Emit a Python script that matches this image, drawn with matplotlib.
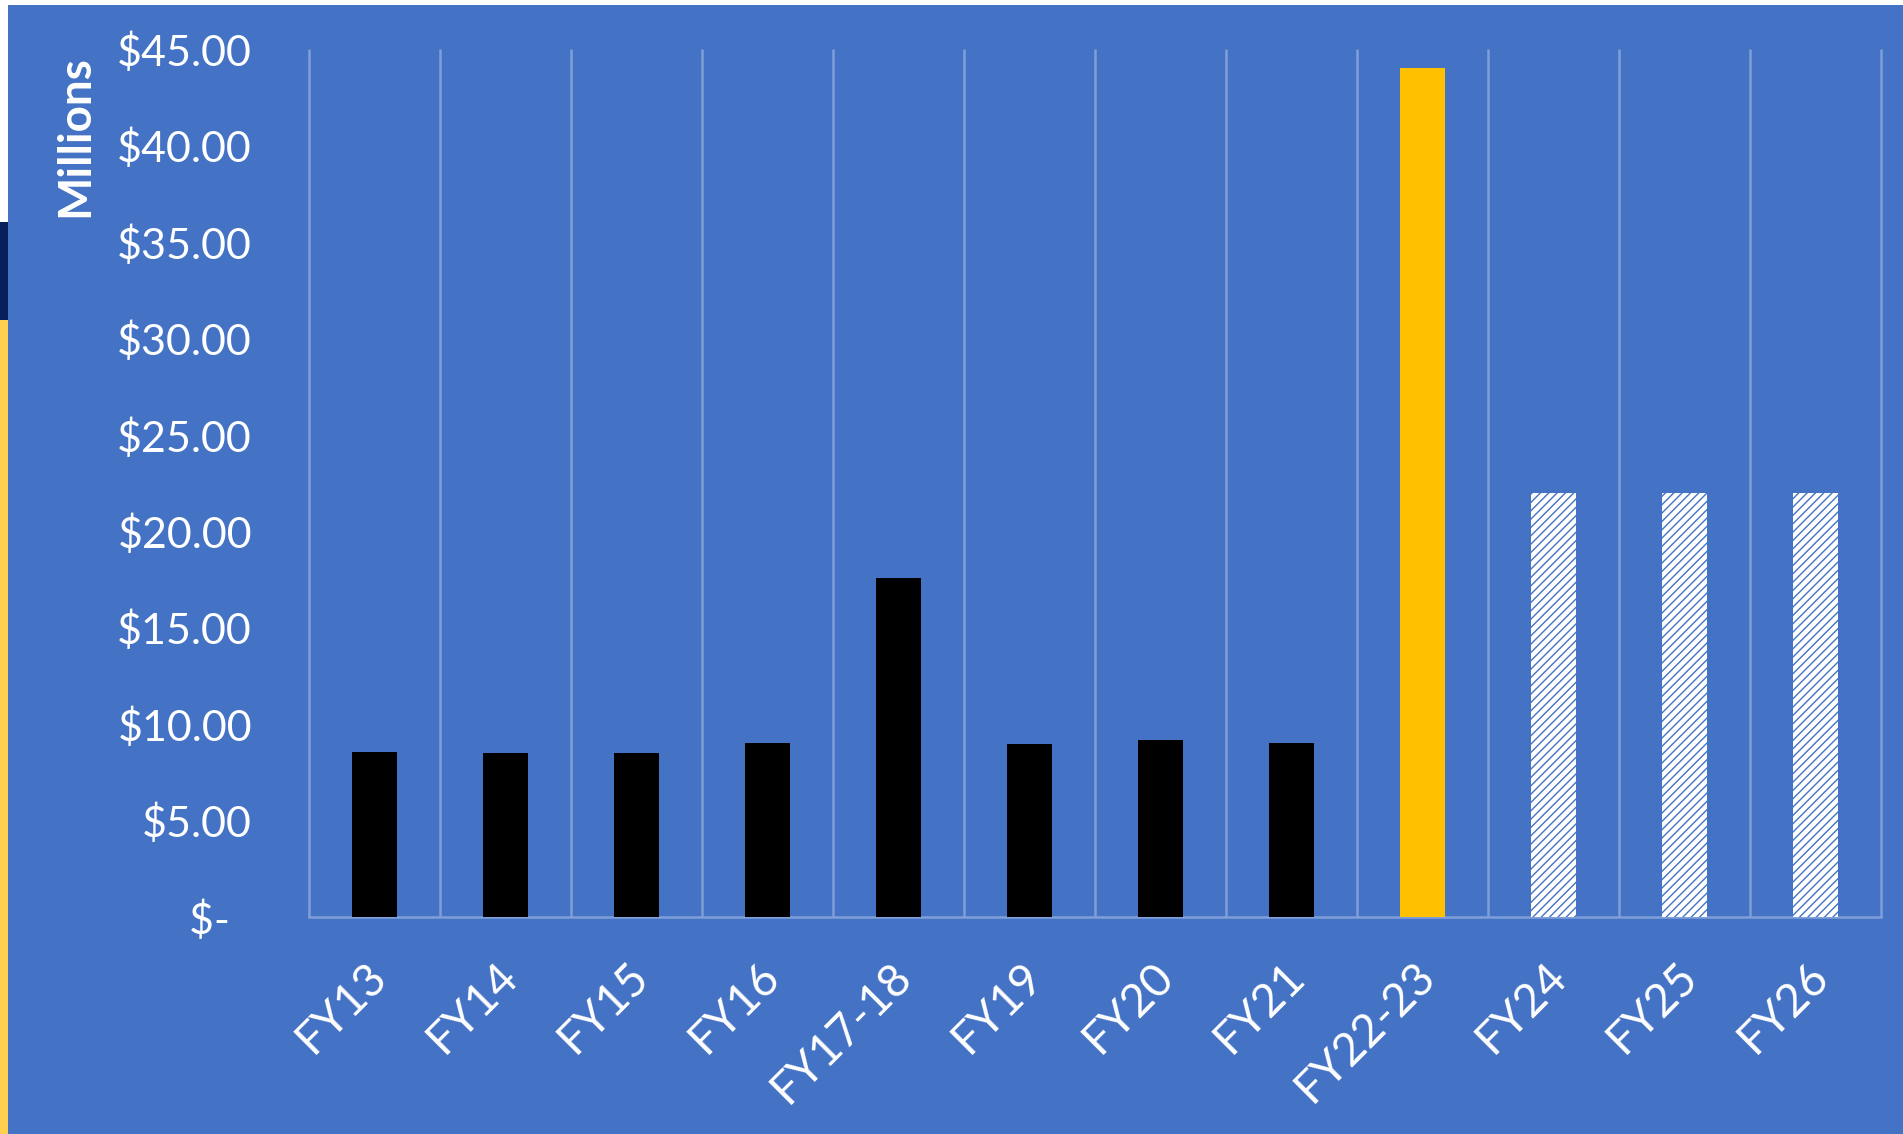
import numpy as np
import matplotlib.pyplot as plt
from matplotlib.patches import Rectangle
from matplotlib.ticker import FuncFormatter
from matplotlib.transforms import ScaledTranslation

# values (millions of dollars)
years = ["FY13", "FY14", "FY15", "FY16", "FY17-18", "FY19", "FY20", "FY21",
         "FY22-23", "FY24", "FY25", "FY26"]
actual = [8.55, 8.5, 8.5, 9.0, 17.6, 8.95, 9.2, 9.0]
current = [44.0]
projected = [22.0, 22.0, 22.0]

BG = "#4472C4"
GRID = "#7F9FD9"

plt.rcParams["font.family"] = ["Lato", "DejaVu Sans"]
plt.rcParams["hatch.linewidth"] = 1.0

fig = plt.figure(figsize=(19.03, 11.34), dpi=100)
fig.patch.set_facecolor(BG)

# slide decorations at the edges
W, H = 1903, 1134
fig.patches.append(Rectangle((0, 1 - 5 / H), 1, 5 / H, transform=fig.transFigure,
                             facecolor="white", edgecolor="none", zorder=0))
fig.patches.append(Rectangle((0, 1 - 222 / H), 8 / W, 222 / H, transform=fig.transFigure,
                             facecolor="white", edgecolor="none", zorder=0))
fig.patches.append(Rectangle((0, 1 - 320 / H), 8 / W, 98 / H, transform=fig.transFigure,
                             facecolor="#07205C", edgecolor="none", zorder=0))
fig.patches.append(Rectangle((0, 0), 8 / W, 1 - 320 / H, transform=fig.transFigure,
                             facecolor="#FFD04F", edgecolor="none", zorder=0))

ax = fig.add_axes([309 / W, 1 - 917 / H, (1881 - 309) / W, (917 - 49) / H])
ax.set_facecolor(BG)

x = np.arange(len(years))
n1, n2 = len(actual), len(current)
bw = 0.34
ax.bar(x[:n1], actual, width=bw, color="black", zorder=3)
ax.bar(x[n1:n1 + n2], current, width=bw, color="#FFC000", zorder=3)
ax.bar(x[n1 + n2:], projected, width=bw, facecolor="white", edgecolor=BG,
       hatch="////", linewidth=0, zorder=3)

ax.set_xlim(-0.5, len(years) - 0.5)
ax.set_ylim(0, 45)

# vertical gridlines between categories
ax.vlines(np.arange(len(years) + 1) - 0.5, 0, 45, color=GRID, lw=1.8, zorder=1,
          clip_on=False)

for s in ["top", "right", "left"]:
    ax.spines[s].set_visible(False)
ax.spines["bottom"].set_color(GRID)
ax.spines["bottom"].set_linewidth(1.8)

ax.set_yticks(np.arange(0, 46, 5))
ax.yaxis.set_major_formatter(FuncFormatter(
    lambda v, p: "$-  " if v == 0 else f"${v:.2f}"))
ax.tick_params(axis="y", length=0, pad=41, labelsize=31, labelcolor="white")

ax.set_xticks(x)
ax.set_xticklabels(years, rotation=45, ha="right", rotation_mode="anchor")
ax.tick_params(axis="x", length=0, pad=27, labelsize=33, labelcolor="white")
shift = ScaledTranslation(-9 / 100, 0, fig.dpi_scale_trans)
for lab in ax.get_xticklabels():
    lab.set_transform(lab.get_transform() + shift)

fig.text(75 / W, 1 - 55 / H, "Millions", rotation=90, ha="center", va="top",
         fontsize=33, fontweight="bold", color="white")

fig.savefig("out.png", dpi=100, facecolor=fig.get_facecolor())
